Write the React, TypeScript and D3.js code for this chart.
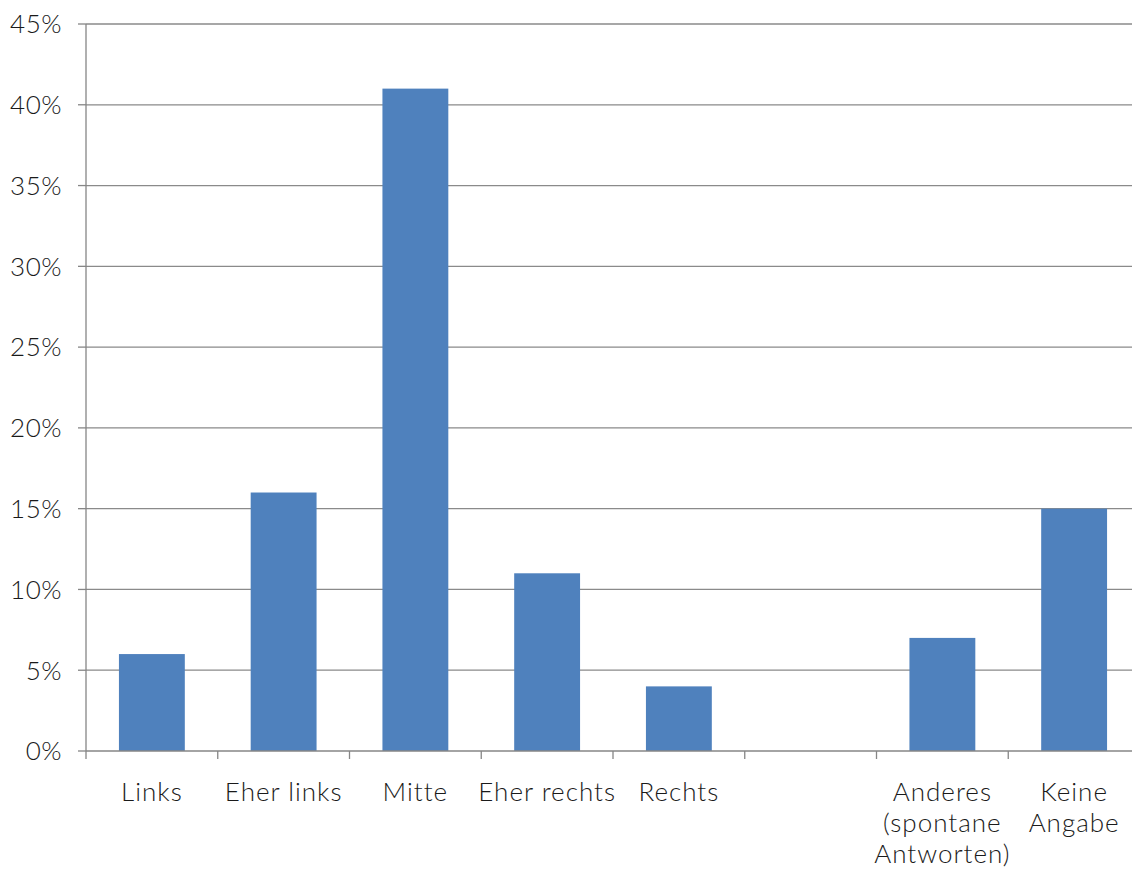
import React from "react";
import * as d3 from "d3";

const categories: string[][] = [
  ["Links"],
  ["Eher links"],
  ["Mitte"],
  ["Eher rechts"],
  ["Rechts"],
  [""],
  ["Anderes", "(spontane", "Antworten)"],
  ["Keine", "Angabe"],
];
const values: number[] = [0.06, 0.16, 0.41, 0.11, 0.04, 0, 0.07, 0.15];
const yTicks: number[] = [0, 0.05, 0.1, 0.15, 0.2, 0.25, 0.3, 0.35, 0.4, 0.45];

const W = 1132;
const H = 870;
const left = 86;
const right = 1140;
const top = 24;
const bottom = 751;
const FONT = "'Lato', 'DejaVu Sans', sans-serif";

export default function App() {
  const keys = categories.map((_, i) => String(i));
  const x = d3.scaleBand<string>().domain(keys).range([left, right]).paddingInner(0).paddingOuter(0);
  const y = d3.scaleLinear().domain([0, 0.45]).range([bottom, top]);
  const bw = x.bandwidth() * 0.5;
  const fmt = d3.format(".0%");
  const edges = keys.map((k) => x(k)!);

  return (
    <svg
      width={W}
      height={H}
      style={{ position: "absolute", left: 0, top: 0, background: "#fff" }}
      fontFamily={FONT}
      fontWeight={300}
    >
      {/* gridlines */}
      {yTicks.slice(1).map((t) => (
        <line key={t} x1={left} x2={right} y1={y(t)} y2={y(t)} stroke="#8a8a8a" strokeWidth={1.3} />
      ))}
      {/* bars */}
      {values.map((v, i) =>
        v > 0 ? (
          <rect
            key={i}
            x={x(keys[i])! + (x.bandwidth() - bw) / 2}
            y={y(v)}
            width={bw}
            height={y(0) - y(v)}
            fill="#4f81bd"
          />
        ) : null
      )}
      {/* y axis */}
      <line x1={left} x2={left} y1={top} y2={bottom} stroke="#868686" strokeWidth={1.3} />
      {yTicks.map((t) => (
        <g key={t}>
          <line x1={left - 8} x2={left} y1={y(t)} y2={y(t)} stroke="#868686" strokeWidth={1.3} />
          <text
            x={left - 24}
            y={y(t)}
            dy="0.36em"
            textAnchor="end"
            fontSize={26}
            letterSpacing={0.5}
            fill="#1a1a1a"
          >
            {fmt(t)}
          </text>
        </g>
      ))}
      {/* x axis */}
      <line x1={left} x2={right} y1={bottom} y2={bottom} stroke="#868686" strokeWidth={1.3} />
      {edges.map((e, i) => (
        <line key={i} x1={e} x2={e} y1={bottom} y2={bottom + 8} stroke="#868686" strokeWidth={1.3} />
      ))}
      {categories.map((lines, i) => (
        <text
          key={i}
          x={x(keys[i])! + x.bandwidth() / 2}
          textAnchor="middle"
          fontSize={26}
          letterSpacing={1}
          fill="#1a1a1a"
        >
          {lines.map((l, j) => (
            <tspan key={j} x={x(keys[i])! + x.bandwidth() / 2} y={801 + j * 31}>
              {l}
            </tspan>
          ))}
        </text>
      ))}
    </svg>
  );
}
